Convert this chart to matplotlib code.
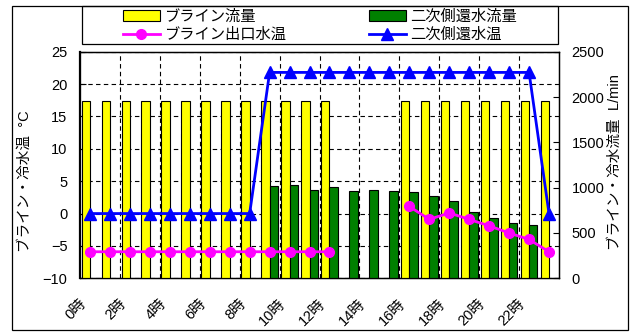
import numpy as np
import matplotlib
matplotlib.use("Agg")
import matplotlib.pyplot as plt
import matplotlib.transforms as mtransforms
from matplotlib.patches import Rectangle
from matplotlib.lines import Line2D

plt.rcParams['font.family'] = ['Liberation Sans', 'Noto Sans CJK JP']

nan = np.nan
hours = list(range(24))
tick_hours = [0, 2, 4, 6, 8, 10, 12, 14, 16, 18, 20, 22]
tick_labels = ["0時", "2時", "4時", "6時", "8時", "10時", "12時", "14時", "16時", "18時", "20時", "22時"]

brine_flow = [1960, 1960, 1960, 1960, 1960, 1960, 1960, 1960, 1960, 1960, 1960, 1960, 1960,
              nan, nan, nan,
              1960, 1960, 1960, 1960, 1960, 1960, 1960, 1960]
secondary_flow = [nan, nan, nan, nan, nan, nan, nan, nan, nan,
                  1018, 1032, 977, 1007, 962, 977, 962, 948, 907, 851, 730, 660, 609, 590,
                  nan]
brine_out_temp = [-5.9, -5.9, -5.9, -5.9, -5.9, -5.9, -5.9, -5.9, -5.9, -5.9, -5.9, -5.9, -5.9,
                  nan, nan, nan,
                  1.1, -0.9, 0.1, -0.9, -1.9, -3.0, -4.0, -5.9]
secondary_return_temp = [0, 0, 0, 0, 0, 0, 0, 0, 0,
                         21.8, 21.8, 21.8, 21.8, 21.8, 21.8, 21.8, 21.8, 21.8, 21.8, 21.8, 21.8, 21.8, 21.8,
                         0]

W, H = 634, 333
fig = plt.figure(figsize=(W / 100, H / 100), dpi=100)

x0, x1, ytop, ybot = 80, 559, 51.7, 278.3
pos = [x0 / W, (H - ybot) / H, (x1 - x0) / W, (ybot - ytop) / H]

# base axes: grid + left axis
ax = fig.add_axes(pos)
ax.set_xlim(-0.5, 23.5)
ax.set_ylim(-10, 25)
ax.set_yticks([-10, -5, 0, 5, 10, 15, 20, 25])
ax.set_xticks(tick_hours)
ax.set_xticklabels([])
ax.set_xticks([1.5, 3.5, 5.5, 7.5, 9.5, 11.5, 13.5, 15.5, 17.5, 19.5, 21.5], minor=True)
ax.tick_params(axis='x', which='both', length=0)
ax.tick_params(axis='y', direction='in', length=4, pad=9, labelsize=10.5)
ax.grid(axis='y', which='major', color='black', linestyle=(0, (4, 3)), linewidth=0.8)
ax.grid(axis='x', which='minor', color='black', linestyle=(0, (4, 3)), linewidth=0.8)
for s in ax.spines.values():
    s.set_color('black')
    s.set_linewidth(1.0)
ax.spines['left'].set_linewidth(1.6)

# rotated category labels
lab_trans = mtransforms.offset_copy(
    mtransforms.blended_transform_factory(ax.transData, ax.transAxes),
    fig=fig, x=-11, y=-18, units='dots')
for h, t in zip(tick_hours, tick_labels):
    ax.text(h, 0, t, transform=lab_trans, rotation=45, rotation_mode='anchor',
            ha='right', va='top', fontsize=10.5, clip_on=False)

# bars on right axis
ax2 = ax.twinx()
ax2.set_ylim(0, 2500)
ax2.set_yticks([0, 500, 1000, 1500, 2000, 2500])
ax2.tick_params(axis='y', direction='in', length=4, pad=9, labelsize=10.5)
xs = np.array(hours)
ax2.bar(xs - 0.42, brine_flow, width=0.42, align='edge', color='#FFFF00', edgecolor='black', linewidth=0.8)
ax2.bar(xs, secondary_flow, width=0.42, align='edge', color='#008000', edgecolor='black', linewidth=0.8)

# lines on top
ax3 = fig.add_axes(pos)
ax3.set_xlim(-0.5, 23.5)
ax3.set_ylim(-10, 25)
ax3.patch.set_visible(False)
ax3.axis('off')
ax3.plot(xs, brine_out_temp, color='#FF00FF', linewidth=2, marker='o', markersize=7, clip_on=False)
ax3.plot(xs, secondary_return_temp, color='#0000FF', linewidth=2, marker='^', markersize=8, clip_on=False)

# axis labels
fig.text(25 / W, 1 - 181 / H, "ブライン・冷水温  °C", rotation=90, ha='center', va='center', fontsize=10.5)
fig.text(615 / W, 1 - 162 / H, "ブライン・冷水流量  L/min", rotation=90, ha='center', va='center', fontsize=10.5)

# legend
handles = [
    Rectangle((0, 0), 1, 1, facecolor='#FFFF00', edgecolor='black', linewidth=0.8),
    Line2D([], [], color='#FF00FF', linewidth=2, marker='o', markersize=7),
    Rectangle((0, 0), 1, 1, facecolor='#008000', edgecolor='black', linewidth=0.8),
    Line2D([], [], color='#0000FF', linewidth=2, marker='^', markersize=8),
]
labels = ["ブライン流量", "ブライン出口水温", "二次側還水流量", "二次側還水温"]
fig.legend(handles, labels, ncol=2, frameon=False, loc='center',
           bbox_to_anchor=(320 / W, 1 - 26 / H), fontsize=11,
           handlelength=2.4, handletextpad=0.3, columnspacing=5.4, labelspacing=0.25,
           borderpad=0.2)
fig.patches.append(Rectangle((82.3 / W, 1 - 44.3 / H), (558.3 - 82.3) / W, (44.3 - 5.7) / H,
                             transform=fig.transFigure, fill=False, edgecolor='black', linewidth=0.9))
# outer frame
fig.patches.append(Rectangle((12.3 / W, 1 - 330 / H), (628.3 - 12.3) / W, (330 - 5.7) / H,
                             transform=fig.transFigure, fill=False, edgecolor='black', linewidth=0.9))

fig.savefig("out.png", dpi=100)
